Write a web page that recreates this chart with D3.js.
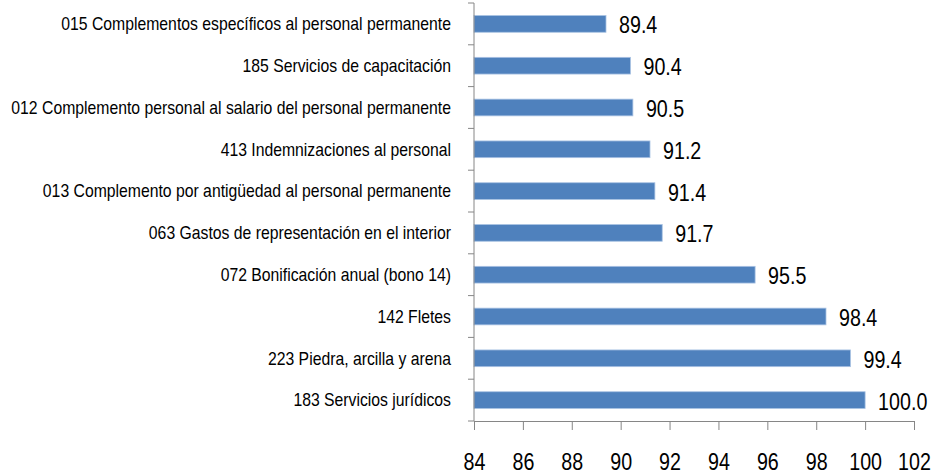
<!DOCTYPE html>
<html><head><meta charset="utf-8">
<script src="https://cdn.jsdelivr.net/npm/d3@7"></script>
<style>
body{margin:0;background:#fff;}
text{font-family:"Liberation Sans",Arial,sans-serif;}
</style></head>
<body><svg id="c" width="932" height="475"></svg>
<script>
const categories = [
 "015 Complementos específicos al personal permanente",
 "185 Servicios de capacitación",
 "012 Complemento personal al salario del personal permanente",
 "413 Indemnizaciones al personal",
 "013 Complemento por antigüedad al personal permanente",
 "063 Gastos de representación en el interior",
 "072 Bonificación anual (bono 14)",
 "142 Fletes",
 "223 Piedra, arcilla y arena",
 "183 Servicios jurídicos"
];
const values = [89.4, 90.4, 90.5, 91.2, 91.4, 91.7, 95.5, 98.4, 99.4, 100.0];
const xTicks = [84, 86, 88, 90, 92, 94, 96, 98, 100, 102];

(function(){
const svg = d3.select("#c");
const mLeft = 474, mRight = 914, mTop = 3, mBottom = 421;
const catScale = 0.876, numScale = 0.82;
const x = d3.scaleLinear().domain([84, 102]).range([mLeft, mRight]);
const y = d3.scaleBand().domain(categories).range([mTop, mBottom]).paddingInner(0.6).paddingOuter(0.3);

svg.selectAll("rect.bar").data(values).enter().append("rect")
  .attr("x", x(84))
  .attr("y", (d,i) => y(categories[i]))
  .attr("width", d => x(d) - x(84))
  .attr("height", y.bandwidth())
  .attr("fill", "#4f81bd")
  .attr("stroke", "#a9c2e3").attr("stroke-width", 0.8);

svg.selectAll("text.val").data(values).enter().append("text")
  .attr("transform", (d,i) => `translate(${x(d) + 13},${y(categories[i]) + y.bandwidth()/2 + 1}) scale(${numScale},1)`)
  .attr("dy", "0.35em")
  .attr("font-size", 24)
  .attr("fill", "#000")
  .text(d => d.toFixed(1));

const yStep = (mBottom - mTop) / categories.length;
svg.append("line").attr("x1", mLeft).attr("x2", mLeft).attr("y1", mTop).attr("y2", mBottom)
  .attr("stroke", "#868686").attr("stroke-width", 1);
d3.range(categories.length + 1).forEach(i => {
  svg.append("line").attr("x1", mLeft - 6).attr("x2", mLeft)
    .attr("y1", mTop + i*yStep).attr("y2", mTop + i*yStep)
    .attr("stroke", "#868686");
});
svg.selectAll("text.cat").data(categories).enter().append("text")
  .attr("transform", d => `translate(451,${y(d) + y.bandwidth()/2}) scale(${catScale},1)`)
  .attr("dy", "0.35em")
  .attr("text-anchor", "end")
  .attr("font-size", 18)
  .attr("fill", "#000")
  .text(d => d);

const xAxis = d3.axisBottom(x).tickValues(xTicks).tickSize(9).tickPadding(23).tickFormat(d3.format("d"));
const gx = svg.append("g").attr("transform", `translate(0,${mBottom})`).call(xAxis);
gx.select(".domain").attr("stroke", "#868686");
gx.selectAll(".tick line").attr("stroke", "#868686");
gx.selectAll(".tick text").attr("font-size", 24).attr("fill", "#000")
  .attr("font-family", "'Liberation Sans',Arial,sans-serif")
  .attr("transform", `scale(${numScale},1)`);
})();
</script></body></html>
